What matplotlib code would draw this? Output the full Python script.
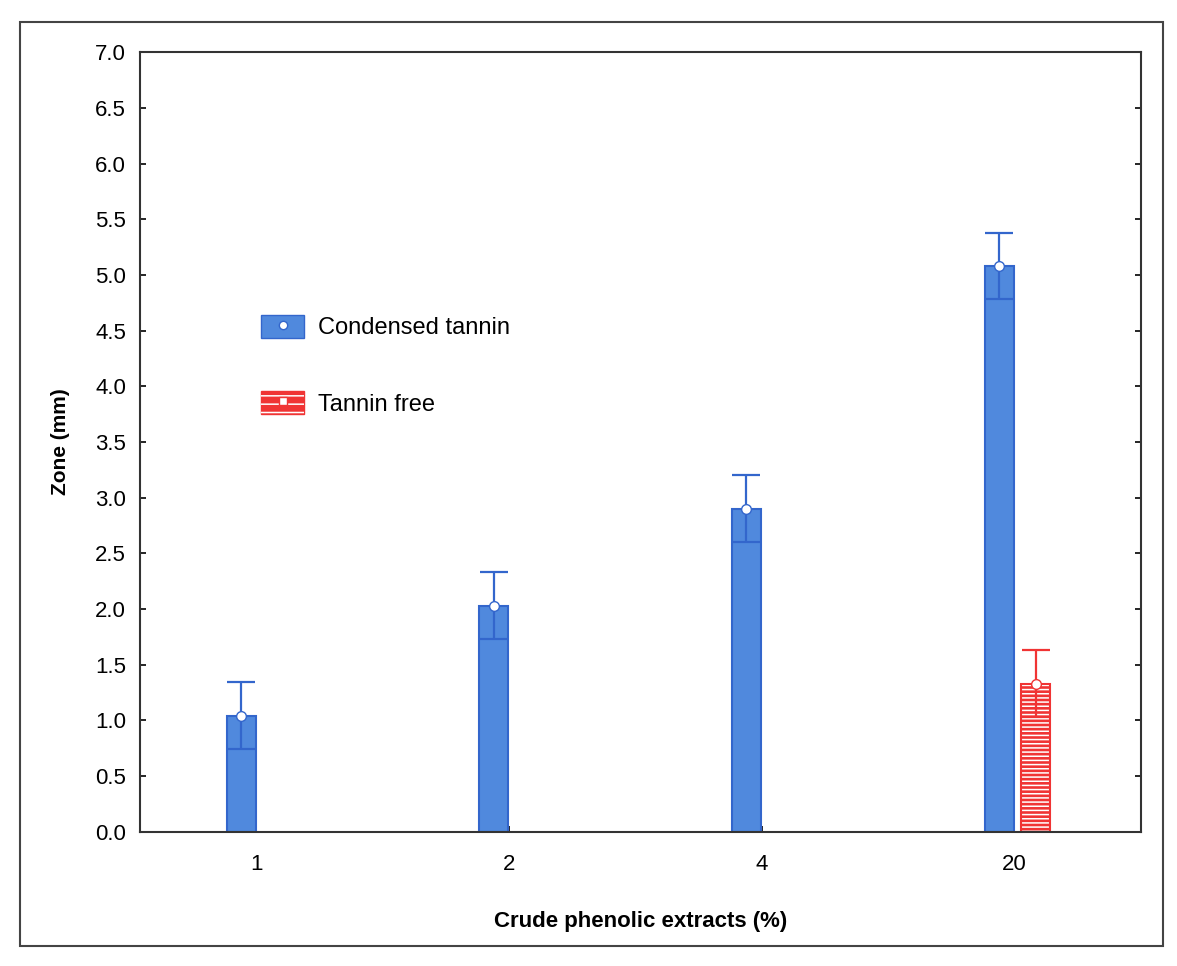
import matplotlib.pyplot as plt
from matplotlib.patches import Patch, Rectangle
from matplotlib.lines import Line2D

plt.rcParams['font.family'] = ['Liberation Sans', 'DejaVu Sans']
plt.rcParams['hatch.linewidth'] = 1.1

categories = ["1", "2", "4", "20"]
condensed = [1.04, 2.03, 2.90, 5.08]
condensed_err = [0.30, 0.30, 0.30, 0.30]
free_cat = [3]
free = [1.33]
free_err = [0.30]

blue = "#5089dd"
blue_dark = "#3366cc"
red = "#f03434"

fig = plt.figure(figsize=(11.77, 9.66), dpi=100)
ax = fig.add_axes([0.119, 0.139, 0.85, 0.807])

x = list(range(len(categories)))
w = 0.115
xb = [i - 0.06 for i in x]
xr = [i + 0.085 for i in free_cat]

ax.bar(xb, condensed, width=w, color=blue, edgecolor=blue_dark, linewidth=1.5, zorder=2)
ax.errorbar(xb, condensed, yerr=condensed_err, fmt='o', color=blue_dark, ecolor=blue_dark,
            elinewidth=1.6, capsize=10, capthick=1.6, markersize=7,
            markerfacecolor='white', markeredgecolor=blue_dark, zorder=3)

# red bar: solid red with thin white stripes
ax.bar(xr, free, width=w, color=red, edgecolor=red, linewidth=0, zorder=2)
ax.bar(xr, free, width=w, fill=False, edgecolor='white', hatch='----', linewidth=0, zorder=2.1)
ax.bar(xr, free, width=w, fill=False, edgecolor=red, linewidth=1.5, zorder=2.2)
ax.errorbar(xr, free, yerr=free_err, fmt='o', color=red, ecolor=red,
            elinewidth=1.6, capsize=10, capthick=1.6, markersize=7,
            markerfacecolor='white', markeredgecolor=red, zorder=3)

ax.set_xlim(-0.46, 3.5)
ax.set_ylim(0, 7.0)
ax.set_yticks([i * 0.5 for i in range(15)])
ax.set_yticklabels([f"{i * 0.5:.1f}" for i in range(15)], fontsize=16)
ax.set_xticks(x)
ax.set_xticklabels(categories, fontsize=16)
ax.tick_params(axis='y', direction='in', length=4, width=1.2, right=True, pad=10)
ax.tick_params(axis='x', direction='in', length=4, width=1.2, pad=16)
for s in ax.spines.values():
    s.set_linewidth(1.5)
    s.set_color("#333333")

ax.set_ylabel("Zone (mm)", fontsize=15, fontweight='bold', labelpad=18)
ax.set_xlabel("Crude phenolic extracts (%)", fontsize=16, fontweight='bold', labelpad=26)

h1 = (Patch(facecolor=blue, edgecolor=blue_dark),
      Line2D([], [], marker='o', linestyle='', markersize=6,
             markerfacecolor='white', markeredgecolor=blue_dark))
h2 = (Patch(facecolor=red, edgecolor=red),
      Patch(facecolor='none', edgecolor='white', hatch='--', linewidth=0),
      Line2D([], [], marker='s', linestyle='', markersize=6,
             markerfacecolor='white', markeredgecolor=red))
ax.legend([h1, h2], ["Condensed tannin", "Tannin free"], loc='upper left',
          bbox_to_anchor=(0.1, 0.69), frameon=False, fontsize=17,
          handlelength=1.8, handleheight=1.1, handletextpad=0.6, labelspacing=2.2)

fig.patches.append(Rectangle((0.017, 0.021), 0.971, 0.956, transform=fig.transFigure,
                             fill=False, edgecolor="#444444", linewidth=1.5))

fig.savefig("out.png", dpi=100)
